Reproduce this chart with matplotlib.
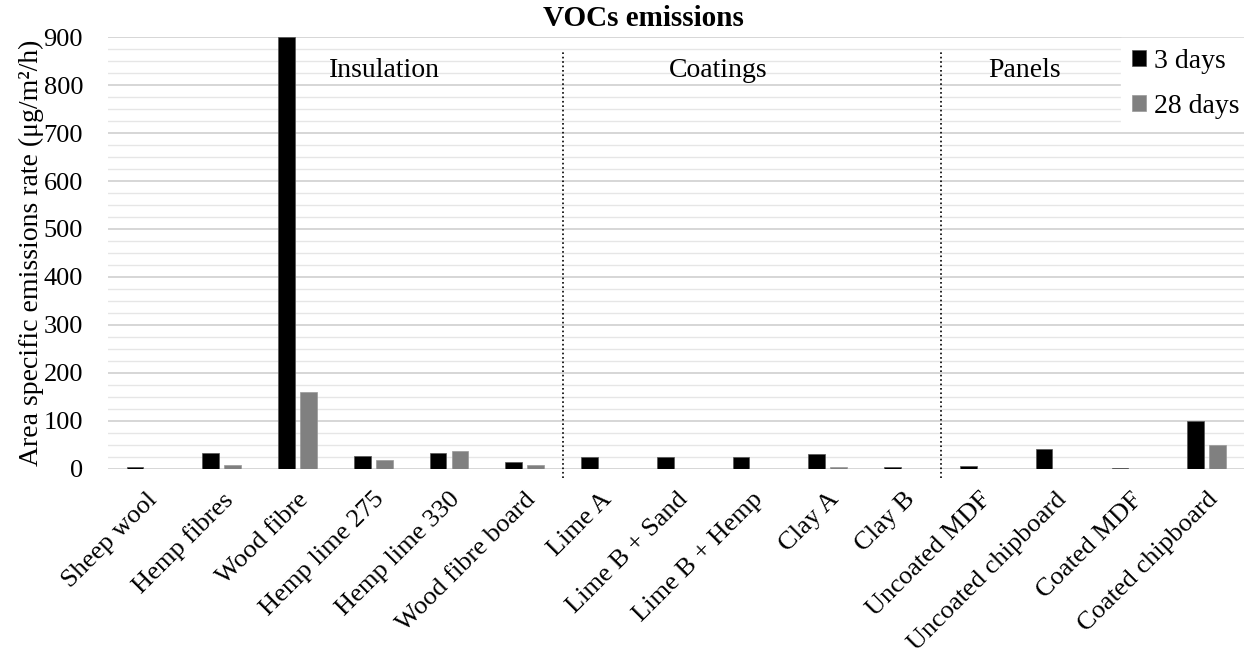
import matplotlib
matplotlib.use("Agg")
import matplotlib.pyplot as plt
import numpy as np

# data
categories = ['Sheep wool', 'Hemp fibres', 'Wood fibre', 'Hemp lime 275', 'Hemp lime 330',
              'Wood fibre board', 'Lime A', 'Lime B + Sand', 'Lime B + Hemp', 'Clay A', 'Clay B',
              'Uncoated MDF', 'Uncoated chipboard', 'Coated MDF', 'Coated chipboard']
days3 = [3.5, 33, 900, 28, 34, 14, 25, 25, 25, 31, 5, 6, 42, 2, 100]
days28 = [0, 8, 160, 19, 37, 9, 0, 0, 0, 5, 0, 0, 0, 0, 49]
groups = ['Insulation', 'Coatings', 'Panels']
group_label_x = [3.15, 7.55, 11.6]
dividers = [5.5, 10.5]

plt.rcParams['font.family'] = ['Liberation Serif', 'DejaVu Serif']

fig = plt.figure(figsize=(12.52, 6.61), dpi=100)
ax = fig.add_axes([0.0863, 0.2905, 0.9077, 0.6535])

x = np.arange(len(categories))
w = 0.22
ax.bar(x - 0.145, days3, w, color='black', edgecolor='#555555', linewidth=0.5, label='3 days', zorder=3)
ax.bar(x + 0.145, days28, w, color='#808080', edgecolor='#999999', linewidth=0.5, label='28 days', zorder=3)

ax.set_xlim(-0.5, len(categories) - 0.5)
ax.set_ylim(0, 900)
ax.set_yticks(np.arange(0, 901, 100))
ax.set_yticks(np.arange(0, 901, 25), minor=True)
ax.grid(axis='y', which='major', color='#cfcfcf', linewidth=1.2, zorder=0)
ax.grid(axis='y', which='minor', color='#e6e6e6', linewidth=1.0, zorder=0)
ax.tick_params(axis='both', which='both', length=0, labelsize=19)
ax.tick_params(axis='y', pad=18)
ax.tick_params(axis='x', pad=14)
for s in ax.spines.values():
    s.set_visible(False)

ax.set_xticks(x)
ax.set_xticklabels(categories, rotation=45, ha='right', rotation_mode='anchor', fontsize=19)

ax.set_ylabel('Area specific emissions rate (μg/m²/h)', fontsize=20, labelpad=0)
fig.text(0.514, 0.972, 'VOCs emissions', fontsize=21, fontweight='bold', ha='center', va='center')

for d in dividers:
    ax.axvline(d, ymin=-0.022, ymax=0.965, color='black', linestyle=':', linewidth=1.2, clip_on=False, zorder=4)

for name, gx in zip(groups, group_label_x):
    ax.text(gx, 831, name, fontsize=20, ha='center', va='center', zorder=5)

leg = ax.legend(loc='upper right', bbox_to_anchor=(1.018, 1.03), fontsize=20, frameon=True,
                handlelength=0.5, handleheight=0.5, handletextpad=0.3, labelspacing=0.7,
                borderpad=0.4, fancybox=False, edgecolor='white', framealpha=1)
leg.set_zorder(6)

fig.savefig('out.png', dpi=100)
